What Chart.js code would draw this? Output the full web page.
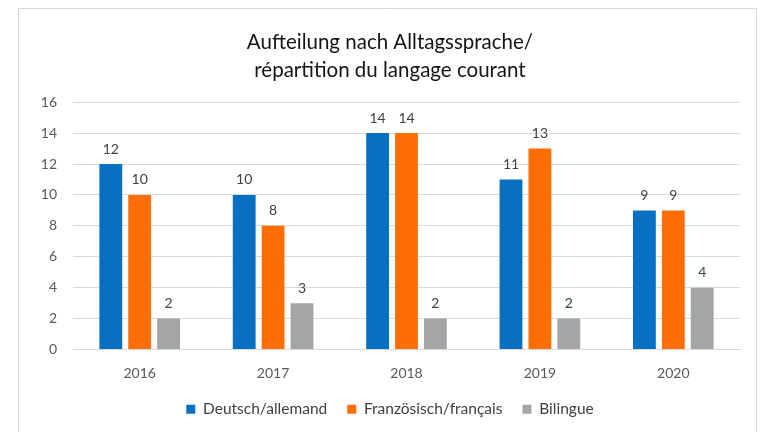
<!DOCTYPE html>
<html>
<head>
<meta charset="utf-8">
<script src="https://cdn.jsdelivr.net/npm/chart.js@4.4.1/dist/chart.umd.min.js"></script>
<style>
html,body{margin:0;padding:0;background:#fff;}
#wrap{position:absolute;left:0;top:0;width:763px;height:432px;}
</style>
</head>
<body>
<div id="wrap"><canvas id="c" width="763" height="432"></canvas></div>
<script>
const years = ['2016','2017','2018','2019','2020'];
const deutsch = [12, 10, 14, 11, 9];
const francais = [10, 8, 14, 13, 9];
const bilingue = [2, 3, 2, 2, 4];
const seriesNames = ['Deutsch/allemand', 'Französisch/français', 'Bilingue'];
const titleLines = ['Aufteilung nach Alltagssprache/', 'répartition du langage courant'];

const FONT = 'Lato, "Liberation Sans", sans-serif';

const framePlugin = {
  id: 'frame',
  beforeDraw(chart) {
    const ctx = chart.ctx;
    ctx.save();
    ctx.fillStyle = '#fff';
    ctx.fillRect(0, 0, chart.width, chart.height);
    ctx.strokeStyle = '#d9d9d9';
    ctx.lineWidth = 1;
    ctx.beginPath();
    ctx.moveTo(18.5, 440);
    ctx.lineTo(18.5, 8.5);
    ctx.lineTo(756.5, 8.5);
    ctx.lineTo(756.5, 440);
    ctx.stroke();
    ctx.restore();
  }
};

const labelPlugin = {
  id: 'valueLabels',
  afterDatasetsDraw(chart) {
    const ctx = chart.ctx;
    ctx.save();
    ctx.font = '14px ' + FONT;
    ctx.fillStyle = '#404040';
    ctx.textAlign = 'center';
    ctx.textBaseline = 'bottom';
    chart.data.datasets.forEach((ds, i) => {
      const meta = chart.getDatasetMeta(i);
      meta.data.forEach((bar, j) => {
        ctx.fillText(String(ds.data[j]), bar.x, bar.y - 8);
      });
    });
    ctx.restore();
  }
};

new Chart(document.getElementById('c'), {
  type: 'bar',
  data: {
    labels: years,
    datasets: [
      { label: seriesNames[0], data: deutsch, backgroundColor: '#0870C2' },
      { label: seriesNames[1], data: francais, backgroundColor: '#FF6D05' },
      { label: seriesNames[2], data: bilingue, backgroundColor: '#A5A5A5' }
    ]
  },
  options: {
    responsive: false,
    animation: false,
    devicePixelRatio: 1,
    layout: { padding: { left: 40, right: 23, top: 28, bottom: 5 } },
    datasets: { bar: { categoryPercentage: 0.65, barPercentage: 0.79 } },
    scales: {
      x: {
        grid: { display: false, drawTicks: false },
        border: { display: true, color: '#d9d9d9' },
        ticks: { color: '#595959', font: { family: FONT, size: 14 }, padding: 16 },
        afterFit(s) { s.height = 32; }
      },
      y: {
        min: 0, max: 16,
        ticks: { stepSize: 2, color: '#595959', font: { family: FONT, size: 14 }, padding: 16 },
        grid: { color: '#d9d9d9', drawTicks: false },
        border: { display: false },
        afterFit(s) { s.width = 33; }
      }
    },
    plugins: {
      title: {
        display: true,
        text: titleLines,
        color: '#141414',
        font: { family: FONT, size: 20.5, weight: 'normal', lineHeight: 1.37 },
        padding: { top: 0, bottom: 18 }
      },
      legend: {
        position: 'bottom',
        labels: {
          boxWidth: 9, boxHeight: 9,
          color: '#404040',
          font: { family: FONT, size: 15.5 },
          padding: 20
        }
      },
      tooltip: { enabled: false }
    }
  },
  plugins: [framePlugin, labelPlugin]
});
</script>
</body>
</html>
